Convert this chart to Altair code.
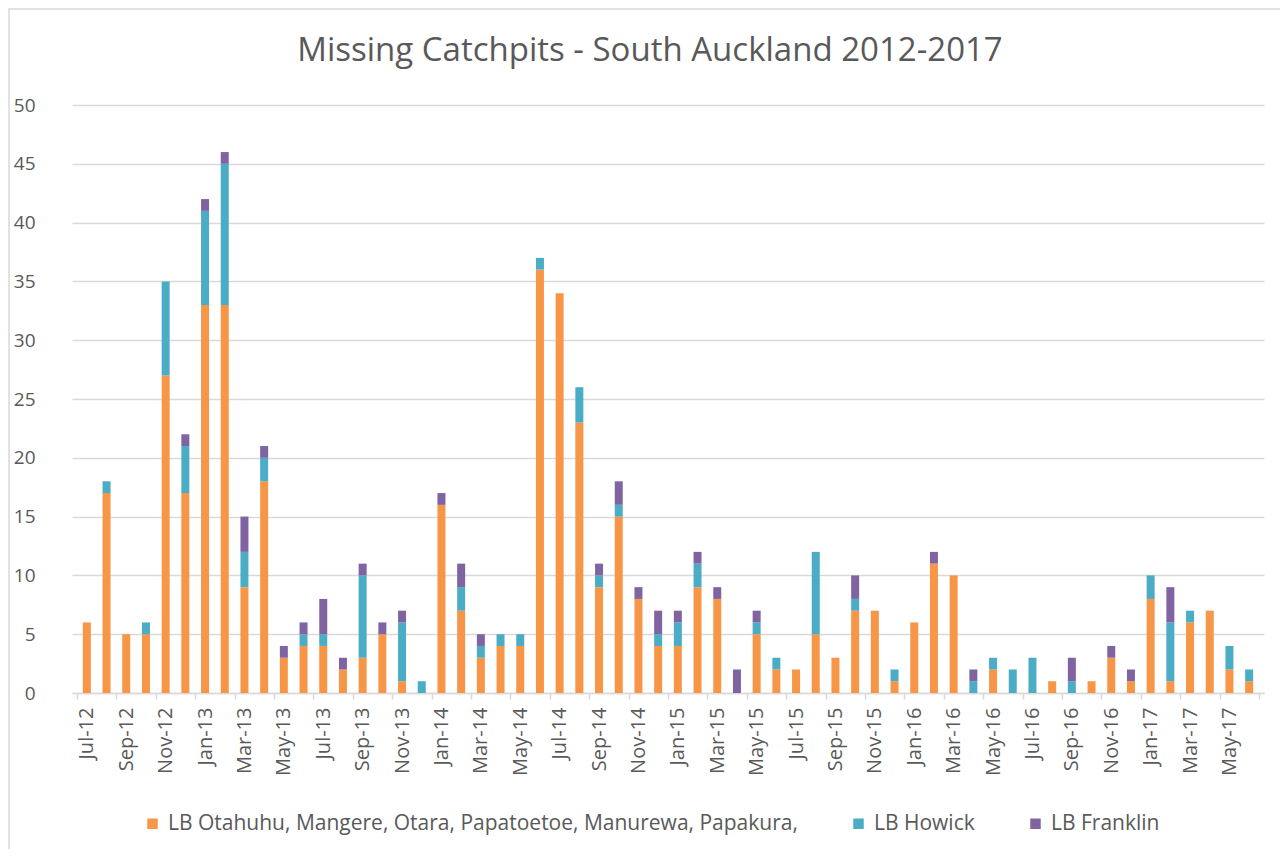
import altair as alt
import pandas as pd

months = ["Jul-12","Aug-12","Sep-12","Oct-12","Nov-12","Dec-12",
          "Jan-13","Feb-13","Mar-13","Apr-13","May-13","Jun-13",
          "Jul-13","Aug-13","Sep-13","Oct-13","Nov-13","Dec-13",
          "Jan-14","Feb-14","Mar-14","Apr-14","May-14","Jun-14",
          "Jul-14","Aug-14","Sep-14","Oct-14","Nov-14","Dec-14",
          "Jan-15","Feb-15","Mar-15","Apr-15","May-15","Jun-15",
          "Jul-15","Aug-15","Sep-15","Oct-15","Nov-15","Dec-15",
          "Jan-16","Feb-16","Mar-16","Apr-16","May-16","Jun-16",
          "Jul-16","Aug-16","Sep-16","Oct-16","Nov-16","Dec-16",
          "Jan-17","Feb-17","Mar-17","Apr-17","May-17","Jun-17"]

otahuhu = [6,17,5,5,27,17,33,33,9,18, 3,4,4,2,3,5,1,0,16,7,
           3,4,4,36,34,23,9,15,8,4, 4,9,8,0,5,2,2,5,3,7,
           7,1,6,11,10,0,2,0,0,1, 0,1,3,1,8,1,6,7,2,1]
howick = [0,1,0,1,8,4,8,12,3,2, 0,1,1,0,7,0,5,1,0,2,
          1,1,1,1,0,3,1,1,0,1, 2,2,0,0,1,1,0,7,0,1,
          0,1,0,0,0,1,1,2,3,0, 1,0,0,0,2,5,1,0,2,1]
franklin = [0,0,0,0,0,1,1,1,3,1, 1,1,3,1,1,1,1,0,1,2,
            1,0,0,0,0,0,1,2,1,2, 1,1,1,2,1,0,0,0,0,2,
            0,0,0,1,0,1,0,0,0,0, 2,0,1,1,0,3,0,0,0,0]

series_names = ["LB Otahuhu, Mangere, Otara, Papatoetoe, Manurewa, Papakura,",
                "LB Howick", "LB Franklin"]
series_colors = ["#F79646", "#4BACC6", "#8064A2"]
y_ticks = [0, 5, 10, 15, 20, 25, 30, 35, 40, 45, 50]
title_text = "Missing Catchpits - South Auckland 2012-2017"

rows = []
for s_i, vals in enumerate([otahuhu, howick, franklin]):
    for m_i, v in enumerate(vals):
        if v > 0:
            rows.append({"idx": m_i, "month": months[m_i],
                         "series": series_names[s_i], "order": s_i, "value": v})
df = pd.DataFrame(rows)

FONT = "Open Sans"
TXT = "#595959"
GRID = "#D9D9D9"
W, H = 1192, 588

tick_vals = list(range(0, 61, 2))
label_arr = "[" + ",".join("'" + months[i] + "'" for i in range(0, 60, 2)) + "]"
label_expr = f"datum.value < 60 ? {label_arr}[datum.value / 2] : ''"

bars = alt.Chart(df).transform_calculate(
    center="datum.idx + 0.5"
).mark_bar(width=8).encode(
    x=alt.X("center:Q",
            scale=alt.Scale(domain=[0, 60], nice=False, zero=False),
            axis=alt.Axis(values=tick_vals, labelExpr=label_expr, title=None,
                          labelAngle=-90, labelOffset=9.93, labelFlush=False,
                          labelOverlap=False, labelFont=FONT, labelFontSize=20,
                          labelColor=TXT, labelPadding=8, tickSize=6,
                          tickColor=GRID, tickWidth=1.5, domainColor=GRID,
                          domainWidth=1.5, grid=False)),
    y=alt.Y("value:Q", stack="zero",
            scale=alt.Scale(domain=[0, 50], nice=False),
            axis=alt.Axis(values=y_ticks, title=None, domain=False, ticks=False,
                          tickSize=0, labelPadding=37, labelFont=FONT,
                          labelFontSize=19, labelColor=TXT, grid=True,
                          gridColor=GRID, gridWidth=1.3)),
    color=alt.Color("series:N",
                    scale=alt.Scale(domain=series_names, range=series_colors),
                    legend=alt.Legend(orient="none", legendX=70, legendY=708,
                                      direction="horizontal", title=None,
                                      symbolType="square", symbolSize=110,
                                      symbolStrokeWidth=0,
                                      labelFont=FONT, labelFontSize=21,
                                      labelColor=TXT, columnPadding=50,
                                      labelOffset=5, labelLimit=1000)),
    order=alt.Order("order:Q", sort="ascending"),
)

one = alt.Data(values=[{"a": 1}])

frame = alt.Chart(one).mark_rect(fill=None, stroke=GRID, strokeWidth=1.5).encode(
    x=alt.value(-63), x2=alt.value(W + 200),
    y=alt.value(-96), y2=alt.value(H + 300),
)

title = alt.Chart(one).mark_text(
    text=title_text, font=FONT, fontSize=33, color=TXT,
    align="center", baseline="alphabetic"
).encode(x=alt.value(578), y=alt.value(-44))

chart = alt.layer(frame, bars, title).properties(
    width=W, height=H,
    padding={"left": 64, "top": 97, "right": 16, "bottom": 156},
    autosize=alt.AutoSizeParams(type="none"),
).configure_view(stroke=None)

chart.save("out.html", embed_options={"renderer": "svg", "actions": False})
